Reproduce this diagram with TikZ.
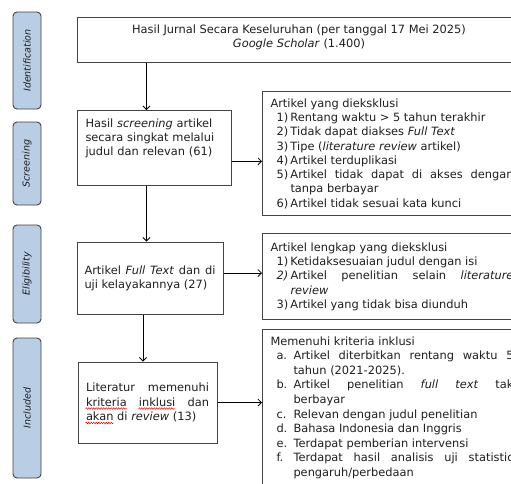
\documentclass[tikz,border=0pt]{standalone}
\usepackage{fontspec}
\setmainfont{DejaVu Sans}
\usetikzlibrary{arrows.meta, decorations.pathmorphing}
\definecolor{pillblue}{HTML}{B9CDE5}
\definecolor{pilledge}{HTML}{404040}
\definecolor{boxedge}{HTML}{444444}
\definecolor{inktext}{HTML}{1E1E1E}
\tikzstyle{Phase}=[rectangle, rounded corners=4, draw=pilledge, fill=pillblue, line width=0.9pt, minimum height=28, inner sep=0pt, rotate=90, font=\fontsize{9.5}{11}\selectfont\itshape, text=inktext]
\tikzstyle{Stage}=[rectangle, draw=boxedge, line width=1pt, inner xsep=8, inner ysep=7, text=inktext, font=\fontsize{11.4}{14.3}\selectfont]
\tikzstyle{Flow}=[-{Straight Barb[length=3.5pt,width=7pt]}, line width=0.8pt, black]
\tikzstyle{Squiggle}=[red, line width=0.5pt, decorate, decoration={snake, amplitude=0.8pt, segment length=2.5pt}]
\newcommand{\butir}[3]{\par\noindent\hangindent=#1\hangafter=1\hbox to #1{\hskip6pt #2\hfil}#3}

\begin{document}
\begin{tikzpicture}[x=1pt, y=-1pt]
    \useasboundingbox (0,0) rectangle (511,483);
    \clip (0,0) rectangle (511,483);

    % phase labels on the left
    \path
    (27,60.5) node[Phase, minimum width=97] (idpill) {Identification}
    (27,163.5) node[Phase, minimum width=83] (scrpill) {Screening}
    (27,274) node[Phase, minimum width=98] (eligpill) {Eligibility}
    (27,408) node[Phase, minimum width=140] (inclpill) {Included};

    % main column
    \path
    (299,39.5) node[Stage, minimum width=444, minimum height=45, text depth=7, align=center] (hasil)
        {Hasil Jurnal Secara Keseluruhan (per tanggal 17 Mei 2025)\\\textit{Google Scholar} (1.400)}
    (77,110) node[Stage, anchor=north west, text width=138, inner ysep=8, text depth=50, align=left] (scr)
        {Hasil \textit{screening} artikel\\secara singkat melalui\\judul dan relevan (61)}
    (150,278) node[Stage, minimum width=146, minimum height=72, inner xsep=7.5, text width=131, align=justify] (elig)
        {Artikel \textit{Full Text} dan di\linebreak uji kelayakannya (27)}
    (147.5,402.5) node[Stage, minimum width=139, minimum height=81, text width=123, align=justify] (incl)
        {Literatur memenuhi\linebreak kriteria inklusi dan\linebreak akan di \textit{review} (13)};

    % side boxes
    \path
    (262,91) node[Stage, anchor=north west, text width=243, align=justify] (excl)
        {Artikel yang dieksklusi
        \butir{20pt}{1)}{Rentang waktu > 5 tahun terakhir}
        \butir{20pt}{2)}{Tidak dapat diakses \textit{Full Text}}
        \butir{20pt}{3)}{Tipe (\textit{literature review} artikel)}
        \butir{20pt}{4)}{Artikel terduplikasi}
        \butir{20pt}{5)}{Artikel tidak dapat di akses dengan\linebreak tanpa berbayar}
        \butir{20pt}{6)}{Artikel tidak sesuai kata kunci}\par}
    (262,233) node[Stage, anchor=north west, text width=243, inner ysep=9, align=justify] (exclfull)
        {Artikel lengkap yang dieksklusi
        \butir{20pt}{1)}{Ketidaksesuaian judul dengan isi}
        \butir{20pt}{\textit{2)}}{Artikel penelitian selain \textit{literature}\linebreak \textit{review}}
        \butir{20pt}{3)}{Artikel yang tidak bisa diunduh}\par}
    (262,329) node[Stage, anchor=north west, text width=243, align=justify, font=\fontsize{11.4}{14.6}\selectfont] (crit)
        {Memenuhi kriteria inklusi
        \butir{23pt}{a.}{Artikel diterbitkan rentang waktu 5\linebreak tahun (2021-2025).}
        \butir{23pt}{b.}{Artikel penelitian \textit{full text} tak\linebreak berbayar}
        \butir{23pt}{c.}{Relevan dengan judul penelitian}
        \butir{23pt}{d.}{Bahasa Indonesia dan Inggris}
        \butir{23pt}{e.}{Terdapat pemberian intervensi}
        \butir{23pt}{f.}{Terdapat hasil analisis uji statistic\linebreak pengaruh/perbedaan}\par};

    % spell-check marks under the included text
    \draw[Squiggle] ([xshift=8pt,yshift=-6pt]incl.west) -- ++(41,0);
    \draw[Squiggle] ([xshift=61pt,yshift=-6pt]incl.west) -- ++(36,0);
    \draw[Squiggle] ([xshift=8pt,yshift=-20.5pt]incl.west) -- ++(28,0);

    \draw[Flow] ([xshift=-8pt]scr.north |- hasil.south) -- ([xshift=-8pt]scr.north);
    \draw[Flow] ([xshift=-8pt]scr.south) -- ([xshift=-8pt]scr.south |- elig.north);
    \draw[Flow] ([xshift=-4.5pt]incl.north |- elig.south) -- ([xshift=-4.5pt]incl.north);
    \draw[Flow] ([yshift=-13.5pt]scr.east) -- ([yshift=-13.5pt]scr.east -| excl.west);
    \draw[Flow] ([yshift=5pt]elig.east) -- ([yshift=5pt]elig.east -| exclfull.west);
    \draw[Flow] (incl.east) -- (incl.east -| crit.west);
\end{tikzpicture}
\end{document}
